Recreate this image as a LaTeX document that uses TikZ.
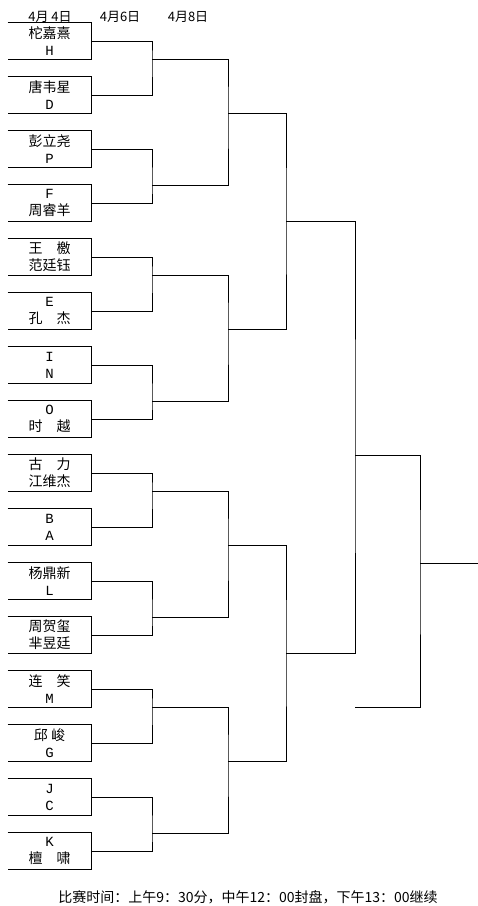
\documentclass[tikz,border=0pt]{standalone}
\usepackage{fontspec}
\newfontfamily\cjk{Noto Sans CJK SC}
\newfontfamily\lat{Liberation Mono}
\begin{document}
\begin{tikzpicture}[x=1pt,y=-1pt,line width=1pt,
  box/.style={minimum width=83pt,minimum height=36pt,inner sep=0pt,align=center,
    font=\cjk\fontsize{14}{17}\selectfont},
  hdr/.style={inner sep=0pt,font=\cjk\fontsize{13}{15}\selectfont},
  foot/.style={inner sep=0pt,font=\cjk\fontsize{14}{16}\selectfont},
  side/.style={line width=1pt},
  conn/.style={line width=1pt}]
\useasboundingbox (0,0) rectangle (478,906);
% headers
\node[hdr] (h1) at (50,17) {4月 4日};
\node[hdr] (h2) at (120,17) {4月6日};
\node[hdr] (h3) at (188,17) {4月8日};
% boxes
\node[box] (b1)  at (49.5,41)  {柁嘉熹\\{\lat H}};
\node[box] (b2)  at (49.5,95)  {唐韦星\\{\lat D}};
\node[box] (b3)  at (49.5,149) {彭立尧\\{\lat P}};
\node[box] (b4)  at (49.5,203) {{\lat F}\\周睿羊};
\node[box] (b5)  at (49.5,257) {王　檄\\范廷钰};
\node[box] (b6)  at (49.5,311) {{\lat E}\\孔　杰};
\node[box] (b7)  at (49.5,365) {{\lat I}\\{\lat N}};
\node[box] (b8)  at (49.5,419) {{\lat O}\\时　越};
\node[box] (b9)  at (49.5,473) {古　力\\江维杰};
\node[box] (b10) at (49.5,527) {{\lat B}\\{\lat A}};
\node[box] (b11) at (49.5,581) {杨鼎新\\{\lat L}};
\node[box] (b12) at (49.5,635) {周贺玺\\芈昱廷};
\node[box] (b13) at (49.5,689) {连　笑\\{\lat M}};
\node[box] (b14) at (49.5,743) {邱 峻\\{\lat G}};
\node[box] (b15) at (49.5,797) {{\lat J}\\{\lat C}};
\node[box] (b16) at (49.5,851) {{\lat K}\\檀　啸};
\foreach \i in {1,...,16}{
  \draw[side] (b\i.north west) -- (b\i.north east) -- (b\i.south east) -- (b\i.south west);
}
% junction coordinates
\coordinate (p1) at (152,59);
\coordinate (p2) at (152,185);
\coordinate (p3) at (152,275);
\coordinate (p4) at (152,401);
\coordinate (p5) at (152,491);
\coordinate (p6) at (152,617);
\coordinate (p7) at (152,707);
\coordinate (p8) at (152,833);
\coordinate (g1) at (228,113);
\coordinate (g2) at (228,329);
\coordinate (g3) at (228,545);
\coordinate (g4) at (228,761);
\coordinate (t1) at (286,221);
\coordinate (t2) at (286,653);
\coordinate (s1) at (355,455);
\coordinate (f)  at (420,563);
\coordinate (stub) at (355,707);
\coordinate (w)  at (478,563);
% round 1
\draw[conn] (b1.east) -| (p1) |- (b2.east);
\draw[conn] (b3.east) -| (p2) |- (b4.east);
\draw[conn] (b5.east) -| (p3) |- (b6.east);
\draw[conn] (b7.east) -| (p4) |- (b8.east);
\draw[conn] (b9.east) -| (p5) |- (b10.east);
\draw[conn] (b11.east) -| (p6) |- (b12.east);
\draw[conn] (b13.east) -| (p7) |- (b14.east);
\draw[conn] (b15.east) -| (p8) |- (b16.east);
% round 2
\draw[conn] (p1) -| (g1) |- (p2);
\draw[conn] (p3) -| (g2) |- (p4);
\draw[conn] (p5) -| (g3) |- (p6);
\draw[conn] (p7) -| (g4) |- (p8);
% round 3
\draw[conn] (g1) -| (t1) |- (g2);
\draw[conn] (g3) -| (t2) |- (g4);
% round 4
\draw[conn] (t1) -| (s1) |- (t2);
% final
\draw[conn] (s1) -| (f) |- (stub);
\draw[conn] (f) -- (w);
% footer
\node[foot] (ft) at (248,897) {比赛时间：上午9：30分，中午12：00封盘，下午13：00继续};
\end{tikzpicture}
\end{document}
